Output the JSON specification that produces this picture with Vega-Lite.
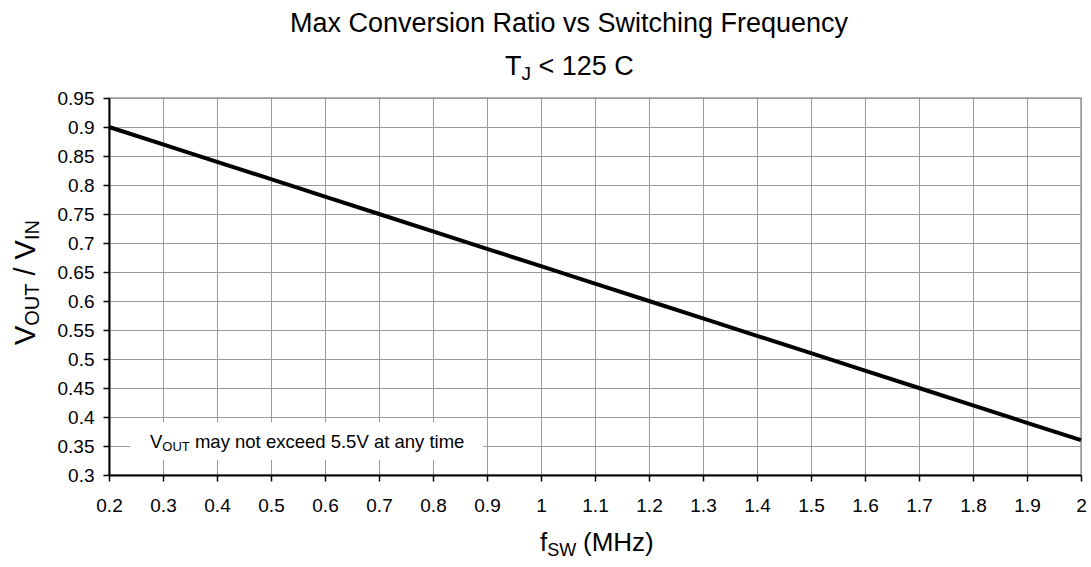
{
  "$schema": "https://vega.github.io/schema/vega-lite/v6.json",
  "width": 972,
  "height": 377,
  "autosize": {"type": "none"},
  "padding": {"left": 109, "top": 98, "right": 10, "bottom": 92},
  "background": "white",
  "resolve": {"axis": {"x": "independent", "y": "independent"}},
  "config": {
    "font": "Liberation Sans",
    "view": {"stroke": "#999999", "strokeWidth": 1.5},
    "axis": {
      "domainColor": "black",
      "domainWidth": 2,
      "tickColor": "black",
      "tickWidth": 1.5,
      "tickSize": 6,
      "gridColor": "#999999",
      "gridWidth": 1,
      "labelFont": "Liberation Sans",
      "labelFontSize": 19,
      "labelColor": "black",
      "labelOverlap": false,
      "labelFlush": false,
      "labelBound": false
    },
    "text": {"font": "Liberation Sans", "color": "black"}
  },
  "layer": [
    {
      "data": {"values": [
        {"fsw": 0.2, "ratio": 0.9},
        {"fsw": 0.3, "ratio": 0.87},
        {"fsw": 0.4, "ratio": 0.84},
        {"fsw": 0.5, "ratio": 0.81},
        {"fsw": 0.6, "ratio": 0.78},
        {"fsw": 0.7, "ratio": 0.75},
        {"fsw": 0.8, "ratio": 0.72},
        {"fsw": 0.9, "ratio": 0.69},
        {"fsw": 1.0, "ratio": 0.66},
        {"fsw": 1.1, "ratio": 0.63},
        {"fsw": 1.2, "ratio": 0.6},
        {"fsw": 1.3, "ratio": 0.57},
        {"fsw": 1.4, "ratio": 0.54},
        {"fsw": 1.5, "ratio": 0.51},
        {"fsw": 1.6, "ratio": 0.48},
        {"fsw": 1.7, "ratio": 0.45},
        {"fsw": 1.8, "ratio": 0.42},
        {"fsw": 1.9, "ratio": 0.39},
        {"fsw": 2.0, "ratio": 0.36}
      ]},
      "mark": {"type": "line", "color": "black", "strokeWidth": 4},
      "encoding": {
        "x": {
          "field": "fsw", "type": "quantitative",
          "scale": {"domain": [0.2, 2], "nice": false, "zero": false},
          "axis": {
            "title": null,
            "values": [0.2, 0.3, 0.4, 0.5, 0.6, 0.7, 0.8, 0.9, 1, 1.1, 1.2, 1.3, 1.4, 1.5, 1.6, 1.7, 1.8, 1.9, 2],
            "format": ".1~f",
            "labelPadding": 15,
            "grid": true
          }
        },
        "y": {
          "field": "ratio", "type": "quantitative",
          "scale": {"domain": [0.3, 0.95], "nice": false, "zero": false},
          "axis": {
            "title": null,
            "values": [0.3, 0.35, 0.4, 0.45, 0.5, 0.55, 0.6, 0.65, 0.7, 0.75, 0.8, 0.85, 0.9, 0.95],
            "format": ".2~f",
            "labelPadding": 9,
            "grid": true
          }
        }
      }
    },
    {
      "data": {"values": [{"note": "box"}]},
      "mark": {"type": "rect", "fill": "white"},
      "encoding": {
        "x": {"datum": 0.239, "axis": null}, "x2": {"datum": 0.893},
        "y": {"datum": 0.326, "axis": null}, "y2": {"datum": 0.391}
      }
    },
    {
      "data": {"values": [{"t": "V"}]},
      "mark": {"type": "text", "align": "left", "baseline": "alphabetic", "fontSize": 18.5},
      "encoding": {"x": {"datum": 0.276, "axis": null}, "y": {"datum": 0.3466, "axis": null}, "text": {"field": "t"}}
    },
    {
      "data": {"values": [{"t": "OUT"}]},
      "mark": {"type": "text", "align": "left", "baseline": "alphabetic", "fontSize": 13, "dx": 12.3, "dy": 3},
      "encoding": {"x": {"datum": 0.276, "axis": null}, "y": {"datum": 0.3466, "axis": null}, "text": {"field": "t"}}
    },
    {
      "data": {"values": [{"t": "may not exceed 5.5V at any time"}]},
      "mark": {"type": "text", "align": "left", "baseline": "alphabetic", "fontSize": 18.5, "dx": 44.9},
      "encoding": {"x": {"datum": 0.276, "axis": null}, "y": {"datum": 0.3466, "axis": null}, "text": {"field": "t"}}
    },
    {
      "data": {"values": [{"t": "Max Conversion Ratio vs Switching Frequency"}]},
      "mark": {"type": "text", "align": "center", "baseline": "alphabetic", "fontSize": 27, "dx": -26, "dy": -66},
      "encoding": {"x": {"datum": 1.1, "axis": null}, "y": {"datum": 0.95, "axis": null}, "text": {"field": "t"}}
    },
    {
      "data": {"values": [{"t": "T"}]},
      "mark": {"type": "text", "align": "left", "baseline": "alphabetic", "fontSize": 27, "dx": -36, "dy": -23},
      "encoding": {"x": {"datum": 1.0, "axis": null}, "y": {"datum": 0.95, "axis": null}, "text": {"field": "t"}}
    },
    {
      "data": {"values": [{"t": "J"}]},
      "mark": {"type": "text", "align": "left", "baseline": "alphabetic", "fontSize": 19, "dx": -19.5, "dy": -18},
      "encoding": {"x": {"datum": 1.0, "axis": null}, "y": {"datum": 0.95, "axis": null}, "text": {"field": "t"}}
    },
    {
      "data": {"values": [{"t": "< 125 C"}]},
      "mark": {"type": "text", "align": "left", "baseline": "alphabetic", "fontSize": 27, "dx": -2.5, "dy": -23},
      "encoding": {"x": {"datum": 1.0, "axis": null}, "y": {"datum": 0.95, "axis": null}, "text": {"field": "t"}}
    },
    {
      "data": {"values": [{"t": "f"}]},
      "mark": {"type": "text", "align": "left", "baseline": "alphabetic", "fontSize": 26, "dx": -55, "dy": 76},
      "encoding": {"x": {"datum": 1.1, "axis": null}, "y": {"datum": 0.3, "axis": null}, "text": {"field": "t"}}
    },
    {
      "data": {"values": [{"t": "SW"}]},
      "mark": {"type": "text", "align": "left", "baseline": "alphabetic", "fontSize": 18, "dx": -47.8, "dy": 81},
      "encoding": {"x": {"datum": 1.1, "axis": null}, "y": {"datum": 0.3, "axis": null}, "text": {"field": "t"}}
    },
    {
      "data": {"values": [{"t": "(MHz)"}]},
      "mark": {"type": "text", "align": "left", "baseline": "alphabetic", "fontSize": 26, "dx": -12, "dy": 76},
      "encoding": {"x": {"datum": 1.1, "axis": null}, "y": {"datum": 0.3, "axis": null}, "text": {"field": "t"}}
    },
    {
      "data": {"values": [{"t": "V"}]},
      "mark": {"type": "text", "align": "left", "baseline": "alphabetic", "angle": 270, "fontSize": 29, "dx": -58.5, "dy": -74},
      "encoding": {"x": {"datum": 0.2, "axis": null}, "y": {"datum": 0.625, "axis": null}, "text": {"field": "t"}}
    },
    {
      "data": {"values": [{"t": "OUT"}]},
      "mark": {"type": "text", "align": "left", "baseline": "alphabetic", "angle": 270, "fontSize": 20, "dx": -39.2, "dy": -70},
      "encoding": {"x": {"datum": 0.2, "axis": null}, "y": {"datum": 0.625, "axis": null}, "text": {"field": "t"}}
    },
    {
      "data": {"values": [{"t": "/ V"}]},
      "mark": {"type": "text", "align": "left", "baseline": "alphabetic", "angle": 270, "fontSize": 29, "dx": 11, "dy": -74},
      "encoding": {"x": {"datum": 0.2, "axis": null}, "y": {"datum": 0.625, "axis": null}, "text": {"field": "t"}}
    },
    {
      "data": {"values": [{"t": "IN"}]},
      "mark": {"type": "text", "align": "left", "baseline": "alphabetic", "angle": 270, "fontSize": 20, "dx": 46.5, "dy": -70},
      "encoding": {"x": {"datum": 0.2, "axis": null}, "y": {"datum": 0.625, "axis": null}, "text": {"field": "t"}}
    }
  ]
}
